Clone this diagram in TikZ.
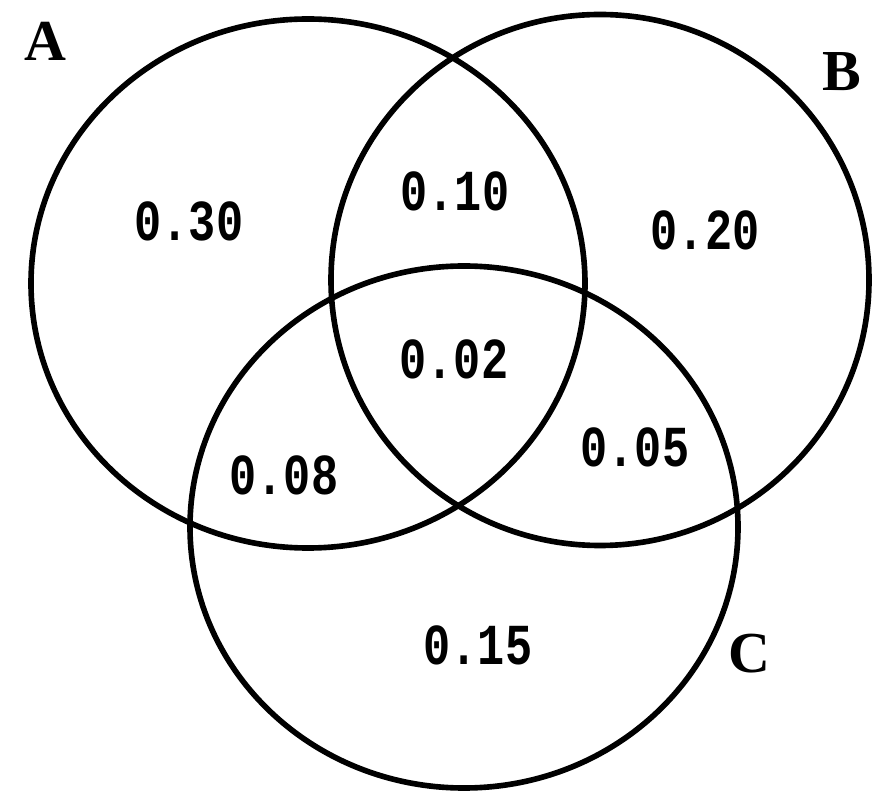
\documentclass[tikz,border=0pt]{standalone}
\usepackage{fontspec}
\usepackage{tikz}
\usetikzlibrary{positioning}
\newfontfamily\vennfont[FakeStretch=0.78]{Liberation Mono}
\newfontfamily\namefont{Liberation Serif}

\begin{document}
\begin{tikzpicture}[
  ring/.style={draw, line width=3.2pt},
  prob/.style={font=\vennfont\bfseries\fontsize{33}{33}\selectfont, inner sep=0pt},
  setname/.style={font=\namefont\bfseries\fontsize{33}{33}\selectfont, inner sep=0pt}
]
\useasboundingbox (0,0) rectangle (17.58,15.9);
% centres of the three sets
\coordinate (cA) at (6.16, 10.23);
\coordinate (cB) at (12.00, 10.30);
\coordinate (cC) at (9.28, 5.36);

\draw[ring] (cA) ellipse [x radius=5.54cm, y radius=5.29cm];
\draw[ring] (cB) ellipse [x radius=5.38cm, y radius=5.31cm];
\draw[ring] (cC) ellipse [x radius=5.48cm, y radius=5.22cm];

% set names
\node[setname] (labA) at (0.90, 15.08) {A};
\node[setname] (labB) at (16.84, 14.46) {B};
\node[setname] (labC) at (14.98, 2.82) {C};

% probabilities of the regions
\node[prob] (pA) at (3.78, 11.48) {0.30};
\node[prob] (pAB) at (9.10, 12.08) {0.10};
\node[prob] (pB) at (14.10, 11.30) {0.20};
\node[prob] (pABC) at (9.08, 8.72) {0.02};
\node[prob] (pBC) at (12.70, 6.96) {0.05};
\node[prob] (pAC) at (5.68, 6.40) {0.08};
\node[prob] (pC) at (9.56, 3.00) {0.15};
\end{tikzpicture}
\end{document}
